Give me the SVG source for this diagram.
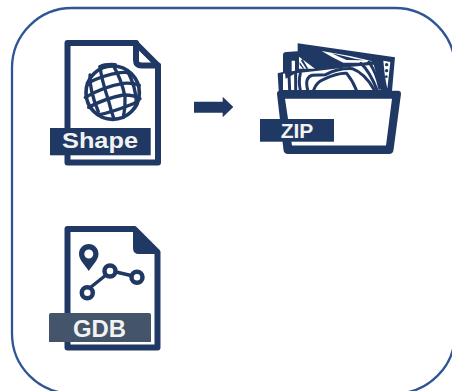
<svg xmlns="http://www.w3.org/2000/svg" width="452" height="391" viewBox="0 0 452 391">
<style>
.ln{fill:none;stroke:#203864;stroke-linejoin:round;stroke-linecap:round}
.fl{fill:#203864}
.wh{fill:#fff}
text{font-family:"Liberation Sans",Arial,sans-serif;font-weight:700;fill:#f2f2f2}
</style>
<rect width="452" height="391" fill="#fff"/>
<rect id="frame" x="12" y="8" width="443" height="385.500" rx="60" fill="#fff" stroke="#2f5597" stroke-width="2.300"/>
<g id="shape">
<path class="ln" stroke-width="6" d="M67.500 43H135.500L158 65.500V162.500H67.500Z"/>
<path class="ln" stroke-width="6" d="M136 43V60Q136 65.500 141.500 65.500H158"/>
<path d="M139.300 51.700L150 61.700H139.300Z" fill="#fff"/>
<g transform="translate(80 60) scale(.3333)">
<circle class="ln" cx="98" cy="98" r="80" stroke-width="11"/>
<g class="ln" stroke-width="10">
<path d="M22 70Q70 45 120 38Q140 36 152 40"/>
<path d="M16 112Q70 80 130 70Q160 68 178 76"/>
<path d="M26 142Q75 115 130 105Q160 104 180 116"/>
<path d="M55 165Q100 155 150 135Q165 130 174 122"/>
<path d="M60 20Q65 60 85 120Q92 150 102 177"/>
<path d="M100 17Q125 60 135 110Q137 140 130 172"/>
<path d="M30 45Q28 90 55 155"/>
<path d="M142 32Q168 80 170 135"/>
<path d="M60 20Q75 12 106 14"/>
</g>
</g>
<rect class="fl" x="50" y="128" width="100.700" height="27.300"/>
<text x="62" y="148" font-size="21.500" textLength="76" lengthAdjust="spacingAndGlyphs">Shape</text>
</g>
<g id="zip">
<g transform="translate(275 40) scale(.3333)">
<path class="fl" d="M68 10L360 52L350 165H12L8 102Q8 98 14 98L24 96V46Q24 36 34 36L68 34Z"/>
<path class="wh" d="M50 62H60V92L50 94Z"/>
<path class="wh" d="M72 50L120 86H72Z"/>
<path class="fl" d="M82 56L100 86H94L78 62ZM74 66L88 86H84L74 74Z"/>
<path class="wh" d="M140 33L225 48L292 64L262 68H205Q170 52 140 33Z"/>
<path class="fl" d="M170 40L240 56L268 61L215 60Q190 50 170 40Z"/>
<path class="wh" d="M24 120V102L30 100L32 116L62 100L130 92L230 80L296 74L318 150H24Z"/>
<g fill="none" stroke="#203864" stroke-width="9" stroke-linecap="round">
<path d="M42 104L44 150M62 100V150M76 100Q70 125 76 150"/>
<path d="M98 150Q88 112 112 106L152 104Q190 84 232 86Q270 100 298 150"/>
<path d="M116 150Q125 125 146 118Q190 98 215 100Q235 125 244 150"/>
<path d="M258 70Q285 95 306 150M282 66Q305 100 314 145"/>
</g>
<path class="wh" d="M325 62L346 66L337 146L330 110Z"/>
<circle class="fl" cx="335" cy="74" r="5"/><circle class="fl" cx="335" cy="92" r="5"/><circle class="fl" cx="334" cy="110" r="4"/>
</g>
<path class="fl" fill-rule="evenodd" d="M280 90.700H398Q401 90.700 401 94L393.500 150Q393 154 389 154H288Q284 154 283.500 150L277 94Q277 90.700 280 90.700ZM285 98.700L292 145.600H386L392 98.700Z"/>
<rect class="fl" x="260" y="119" width="74" height="22.700"/>
<text x="297" y="138" font-size="21" text-anchor="middle">ZIP</text>
</g>
<g id="gdb">
<path class="ln" stroke-width="6" d="M67.500 229H134.500L157.500 252V347.500H67.500Z"/>
<path class="fl" d="M133 229L157.500 252V254H139Q133 254 133 248Z"/>
<path class="fl" fill-rule="evenodd" d="M88.800 244C83 244 79 248.500 79 254C79 260 85 265 88.800 271C92.500 265 98.500 260 98.500 254C98.500 248.500 94.500 244 88.800 244ZM88.800 249.500A4.500 4.500 0 1 1 88.800 258.500A4.500 4.500 0 1 1 88.800 249.500Z"/>
<path class="ln" stroke-width="3.500" d="M91 287L106 275M116 272L131 275.500"/>
<g fill="#fff" stroke="#203864" stroke-width="4.500">
<circle cx="87.300" cy="292.700" r="5.500"/>
<circle cx="110" cy="271" r="5.500"/>
<circle cx="137" cy="277.300" r="5.500"/>
</g>
<path d="M49 315Q49 313 51 313H149Q151 313 151 315V342H49Z" fill="#44546a"/>
<text x="73" y="337" font-size="24" textLength="53" lengthAdjust="spacingAndGlyphs">GDB</text>
</g>
<g id="connectors">
<path class="fl" d="M194 101.700H222.700V96.700L233.300 107L222.700 117.300V112.700H194Z"/>
</g>
</svg>
